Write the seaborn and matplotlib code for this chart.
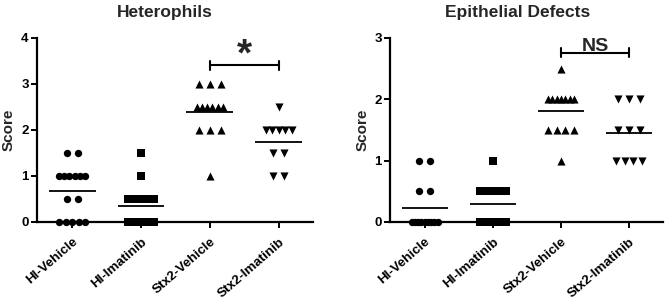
import numpy as np
import pandas as pd
import matplotlib
matplotlib.use("Agg")
import matplotlib.pyplot as plt
import matplotlib.transforms as mtransforms
import seaborn as sns

groups = ["HI-Vehicle", "HI-Imatinib", "Stx2-Vehicle", "Stx2-Imatinib"]
markers = ["o", "s", "^", "v"]

# Heterophils scores
het_hi_vehicle = [1.5]*2 + [1.0]*6 + [0.5]*2 + [0.0]*5
het_hi_imatinib = [1.5]*1 + [1.0]*1 + [0.5]*5 + [0.0]*7
het_stx2_vehicle = [3.0]*3 + [2.5]*6 + [2.0]*3 + [1.0]*1
het_stx2_imatinib = [2.5]*1 + [2.0]*5 + [1.5]*2 + [1.0]*2

# Epithelial defects scores
epi_hi_vehicle = [1.0]*2 + [0.5]*2 + [0.0]*9
epi_hi_imatinib = [1.0]*1 + [0.5]*6 + [0.0]*7
epi_stx2_vehicle = [2.5]*1 + [2.0]*7 + [1.5]*4 + [1.0]*1
epi_stx2_imatinib = [2.0]*3 + [1.5]*3 + [1.0]*4

panels = [
    ("Heterophils", [het_hi_vehicle, het_hi_imatinib, het_stx2_vehicle, het_stx2_imatinib], 4, "*"),
    ("Epithelial Defects", [epi_hi_vehicle, epi_hi_imatinib, epi_stx2_vehicle, epi_stx2_imatinib], 3, "NS"),
]

sns.set_theme(style="ticks")
plt.rcParams["font.family"] = ["Liberation Sans", "DejaVu Sans"]
plt.rcParams["font.weight"] = "bold"


def spread(values, idx, step=0.16, maxspan=0.38):
    """Horizontal scatter positions: rows of equal values spread evenly."""
    vals = np.asarray(values)
    xs = np.zeros(len(vals), dtype=float)
    for v in np.unique(vals):
        ids = np.where(vals == v)[0]
        k = len(ids)
        if k == 1:
            xs[ids] = idx
            continue
        sp = min(step, maxspan / (k - 1))
        offs = (np.arange(k) - (k - 1) / 2) * sp
        xs[ids] = idx + offs
    return xs


fig = plt.figure(figsize=(6.7, 3.04), dpi=100)
ax_pos = [(37/670, 82/304, 276/670, 184/304), (390/670, 82/304, 273/670, 184/304)]
title_x = [165/670, 518/670]

for p, (title, data, ymax, sig) in enumerate(panels):
    ax = fig.add_axes(ax_pos[p])
    rows = []
    for i, (g, vals) in enumerate(zip(groups, data)):
        xs = spread(vals, i)
        for x, v in zip(xs, vals):
            rows.append({"group": g, "x": x, "score": v})
    df = pd.DataFrame(rows)
    for i, g in enumerate(groups):
        sub = df[df["group"] == g]
        sz = 34 if markers[i] in ("^", "v") else 28
        sns.scatterplot(data=sub, x="x", y="score", marker=markers[i], color="black",
                        s=sz, linewidth=0, ax=ax, clip_on=False, zorder=3)
        m = np.mean(data[i])
        ax.hlines(m, i - 0.34, i + 0.34, color="black", lw=1.3, zorder=4)

    ax.set_xlim(-0.51, 3.5)
    ax.set_ylim(0, ymax)
    ax.set_yticks(range(ymax + 1))
    ax.set_xticks(range(len(groups)))
    ax.set_xticklabels(groups, rotation=41, ha="right", rotation_mode="anchor",
                       fontsize=9.6, fontweight="bold")
    offset = mtransforms.ScaledTranslation(-2/100, 0, fig.dpi_scale_trans)
    for lab in ax.get_xticklabels():
        lab.set_transform(lab.get_transform() + offset)
    for lab in ax.get_yticklabels():
        lab.set_fontsize(9.5)
        lab.set_fontweight("bold")
    ax.set_xlabel("")
    ax.set_ylabel("Score", fontsize=11, fontweight="bold")
    ax.yaxis.set_label_coords(-0.076, 0.5)
    sns.despine(ax=ax)
    for sp in ("left", "bottom"):
        ax.spines[sp].set_linewidth(1.6)
        ax.spines[sp].set_color("black")
    ax.tick_params(axis="y", direction="out", length=4, width=1.4, colors="black", pad=2)
    ax.tick_params(axis="x", direction="out", length=4, width=1.4, colors="black", pad=6)

    # significance bracket
    if p == 0:
        yb, cap = 3.41, 0.1
        ax.plot([2, 3], [yb, yb], color="black", lw=1.5, clip_on=False)
        for xx in (2, 3):
            ax.plot([xx, xx], [yb - cap, yb + cap], color="black", lw=1.5, clip_on=False)
        ax.text(2.5, 3.23, sig, ha="center", va="bottom", fontsize=28, fontweight="bold")
    else:
        yb, cap = 2.76, 0.075
        ax.plot([2, 3], [yb, yb], color="black", lw=1.5, clip_on=False)
        for xx in (2, 3):
            ax.plot([xx, xx], [yb - cap, yb + cap], color="black", lw=1.5, clip_on=False)
        ax.text(2.5, 2.78, sig, ha="center", va="baseline", fontsize=14, fontweight="bold")

    fig.text(title_x[p], 1 - 12/304, title, ha="center", va="center", fontsize=12.5,
             fontweight="bold")

fig.savefig("out.png", dpi=100)
